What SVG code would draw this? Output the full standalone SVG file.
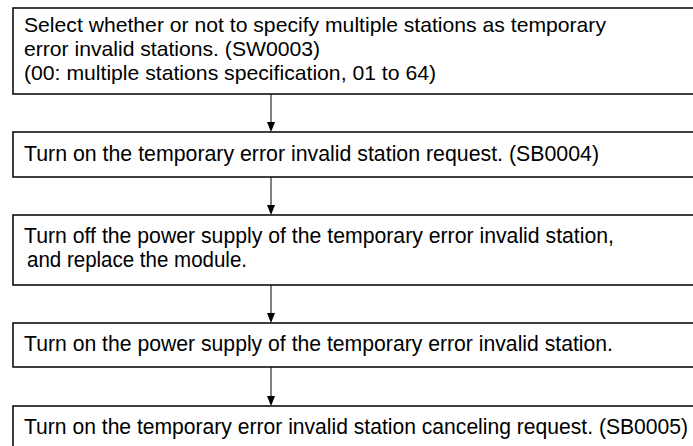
<svg xmlns="http://www.w3.org/2000/svg" width="693" height="446" viewBox="0 0 693 446">
<defs>
<style>
.box{fill:#fff;stroke:#000;stroke-width:1.5}
.t{font-family:"Liberation Sans",Arial,sans-serif;font-size:21px;fill:#000}
.n{font-family:"Liberation Sans",Arial,sans-serif;font-size:21.5px;fill:#000}
.c{stroke:#000;stroke-width:1;fill:none}
.ah{fill:#000}
</style>
</defs>
<rect width="693" height="446" fill="#fff"/>
<g id="connectors">
<line class="c" x1="271" y1="94" x2="271" y2="123"/>
<path class="ah" d="M267,122 L275,122 L271,132 Z"/>
<line class="c" x1="271" y1="177" x2="271" y2="205"/>
<path class="ah" d="M267,205 L275,205 L271,215 Z"/>
<line class="c" x1="271" y1="285" x2="271" y2="314"/>
<path class="ah" d="M267,313 L275,313 L271,323 Z"/>
<line class="c" x1="271" y1="367" x2="271" y2="396"/>
<path class="ah" d="M267,396 L275,396 L271,406 Z"/>
</g>
<g id="n1">
<rect class="box" x="13" y="8" width="690" height="86"/>
<text class="t" x="24" y="32" textLength="582" lengthAdjust="spacingAndGlyphs">Select whether or not to specify multiple stations as temporary</text>
<text class="t" x="24" y="56" textLength="296" lengthAdjust="spacingAndGlyphs">error invalid stations. (SW0003)</text>
<text class="t" x="24" y="80" textLength="412" lengthAdjust="spacingAndGlyphs">(00: multiple stations specification, 01 to 64)</text>
</g>
<g id="n2">
<rect class="box" x="13" y="132" width="690" height="45"/>
<text class="n" x="24" y="161" textLength="575" lengthAdjust="spacingAndGlyphs">Turn on the temporary error invalid station request. (SB0004)</text>
</g>
<g id="n3">
<rect class="box" x="13" y="215" width="690" height="70"/>
<text class="n" x="24" y="243" textLength="590" lengthAdjust="spacingAndGlyphs">Turn off the power supply of the temporary error invalid station,</text>
<text class="n" x="27" y="267" textLength="220" lengthAdjust="spacingAndGlyphs">and replace the module.</text>
</g>
<g id="n4">
<rect class="box" x="13" y="323" width="690" height="44"/>
<text class="n" x="24" y="351" textLength="589" lengthAdjust="spacingAndGlyphs">Turn on the power supply of the temporary error invalid station.</text>
</g>
<g id="n5">
<rect class="box" x="13" y="406" width="690" height="50"/>
<text class="n" x="24" y="434" textLength="664" lengthAdjust="spacingAndGlyphs">Turn on the temporary error invalid station canceling request. (SB0005)</text>
</g>
</svg>
